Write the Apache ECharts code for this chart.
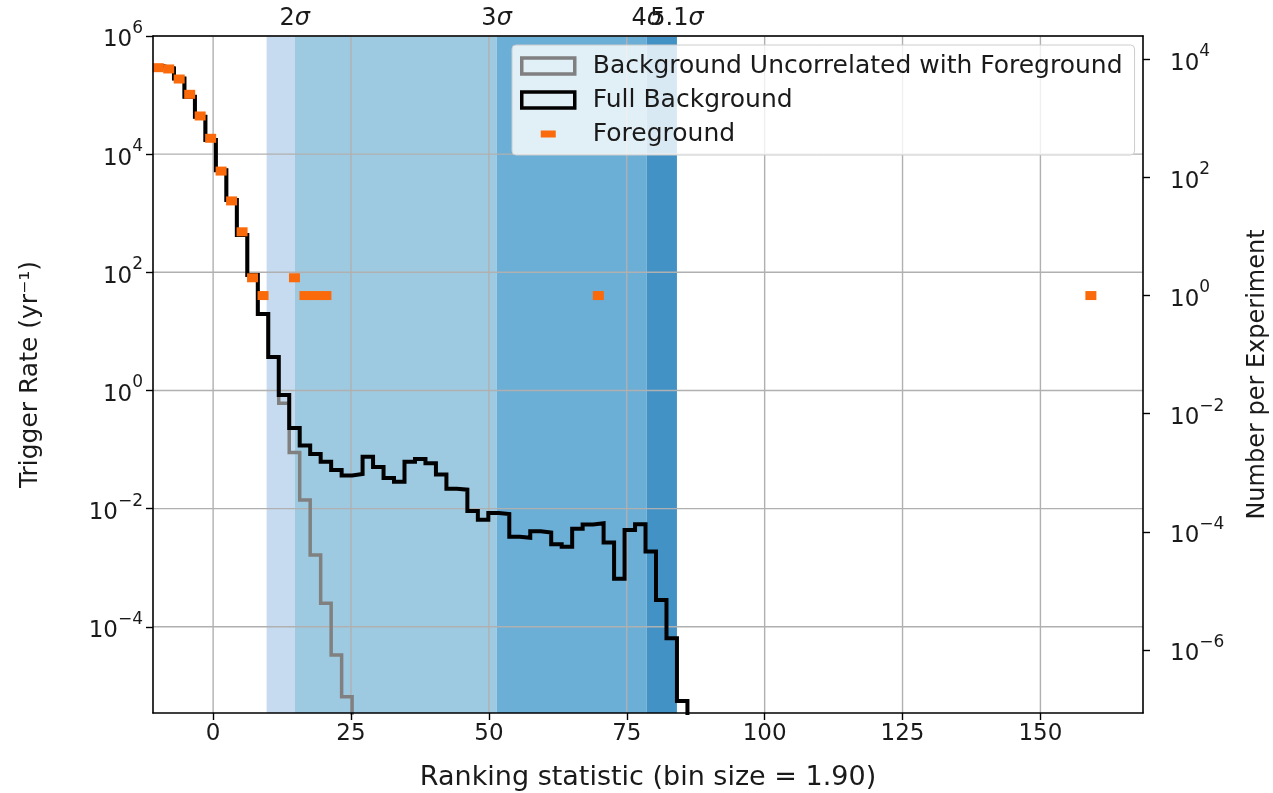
<!DOCTYPE html>
<html><head><meta charset="utf-8">
<script src="https://cdn.jsdelivr.net/npm/echarts@6/dist/echarts.min.js"></script>
<style>html,body{margin:0;padding:0;background:#fff}#c{width:1273px;height:793px}</style>
</head><body><div id="c"></div>
<script>
// ---- data ----
const binStart = -10.9;
const binSize = 1.90;
// Full background trigger rate per bin (yr^-1)
const fullBackground = [3.08e5, 2.85e5, 1.91e5, 9.33e4, 4.28e4, 1.73e4, 5360, 1667, 426, 89.8,
  19.6, 3.67, 0.836, 0.231, 0.117, 0.084, 0.0622, 0.045, 0.0363, 0.0385,
  0.0755, 0.0506, 0.033, 0.0285, 0.0622, 0.069, 0.0583, 0.0378, 0.0216, 0.0209,
  0.0091, 0.00649, 0.00841, 0.0081, 0.00335, 0.00321, 0.00413, 0.00394, 0.0025, 0.00226,
  0.00457, 0.00538, 0.00564, 0.00267, 0.000649, 0.00435, 0.00545, 0.00187, 0.000284, 6.4e-5, 5.56e-6];
// Background uncorrelated with foreground, per bin (yr^-1)
const uncorrelatedBackground = [3.08e5, 2.85e5, 1.91e5, 9.33e4, 4.28e4, 1.73e4, 5360, 1667, 426, 89.8,
  19.6, 3.67, 0.605, 0.0889, 0.014, 0.00164, 0.00025, 3.33e-5, 6.56e-6];
// Foreground: bin index and number of events per experiment
const foregroundBins = [0, 1, 2, 3, 4, 5, 6, 7, 8, 9, 10, 13, 14, 15, 16, 42, 89];
const foregroundCounts = [7200, 6850, 4630, 2550, 1096, 459, 128, 40, 12, 2, 1, 2, 1, 1, 1, 1, 1];
// Significance bands
const sigmaEdges = [9.7, 14.78, 51.4, 78.6, 84.1];
const sigmaTickValues = [14.78, 51.4, 78.6, 84.1];
const sigmaTickLabels = ['2', '3', '4', '5.1'];
const xTicks = [0, 25, 50, 75, 100, 125, 150];
const leftTicksLog = [-4, -2, 0, 2, 4, 6];
const rightTicksLog = [-6, -4, -2, 0, 2, 4];
const experimentsPerYear = 40.4;

// ---- config ----
const X_MIN = -10.9, X_MAX = 168.6;
const L_MIN = -5.46, L_MAX = 6;
const OFF = Math.log10(experimentsPerYear);
const R_MIN = L_MIN - OFF, R_MAX = L_MAX - OFF;
const bandColors = ['#c6dbef', '#9ecae1', '#6baed6', '#4292c6'];
const FONT = 'DejaVu Sans';
const TXT = '#1a1a1a';
const ORANGE = '#fa6a0a';

const pow10Label = v => '{b|10}{s|' + String(Math.round(v)).replace('-', '−') + '}';
const powRich = {
  b: {fontFamily: FONT, fontSize: 23, color: TXT, lineHeight: 32, verticalAlign: 'bottom'},
  s: {fontFamily: FONT, fontSize: 17, color: TXT, lineHeight: 20, verticalAlign: 'top'}
};

function stepPoints(vals) {
  const pts = [];
  for (let k = 0; k < vals.length; k++) {
    const a = binStart + k * binSize, b = a + binSize, y = Math.log10(vals[k]);
    pts.push([a, y], [b, y]);
  }
  pts.push([binStart + vals.length * binSize, L_MIN - 3]);
  return pts;
}

const bandData = [];
for (let i = 0; i < sigmaEdges.length - 1; i++) bandData.push([sigmaEdges[i], sigmaEdges[i + 1], i]);

const fgData = foregroundBins.map((k, i) => [binStart + (k + 0.5) * binSize, Math.log10(foregroundCounts[i])]);

const gridStroke = {stroke: '#b0b0b0', lineWidth: 1.4};

const chart = echarts.init(document.getElementById('c'), null, {renderer: 'canvas'});
chart.setOption({
  animation: false,
  backgroundColor: '#fff',
  grid: {left: 153, right: 130, top: 36, bottom: 80, containLabel: false, outerBoundsMode: 'none'},
  legend: {
    orient: 'vertical', left: 512, top: 45, padding: [7, 12, 7, 8],
    itemWidth: 53, itemHeight: 16, itemGap: 6,
    backgroundColor: 'rgba(255,255,255,0.8)', borderColor: '#cccccc', borderWidth: 1, borderRadius: 4,
    textStyle: {fontFamily: FONT, fontSize: 25, color: TXT, lineHeight: 28, padding: [0, 0, 0, 13]},
    data: [
      {name: 'Background Uncorrelated with Foreground', icon: 'rect',
        itemStyle: {color: 'rgba(255,255,255,0)', borderColor: '#808080', borderWidth: 3.5}},
      {name: 'Full Background', icon: 'rect',
        itemStyle: {color: 'rgba(255,255,255,0)', borderColor: '#000000', borderWidth: 3.5}},
      {name: 'Foreground', icon: 'path://M0,0M53,16M19,4.5H34V11.5H19Z', itemStyle: {color: ORANGE, opacity: 1}}
    ]
  },
  xAxis: [{
    type: 'value', position: 'bottom', min: X_MIN, max: X_MAX, z: 5,
    axisLine: {show: true, onZero: false, lineStyle: {color: '#000', width: 1.6}},
    axisTick: {show: true, length: 7, customValues: xTicks, lineStyle: {color: '#000', width: 1.4}},
    axisLabel: {customValues: xTicks, fontFamily: FONT, fontSize: 23, color: TXT, margin: 10},
    splitLine: {show: false},
    name: 'Ranking statistic (bin size = 1.90)', nameLocation: 'middle', nameGap: 51,
    nameTextStyle: {fontFamily: FONT, fontSize: 27, color: TXT}
  }, {
    type: 'value', position: 'top', min: X_MIN, max: X_MAX, z: 5,
    axisLine: {show: true, onZero: false, lineStyle: {color: '#000', width: 1.6}},
    axisTick: {show: false},
    axisLabel: {show: false},
    splitLine: {show: false}
  }],
  yAxis: [{
    type: 'value', position: 'left', min: L_MIN, max: L_MAX, z: 5,
    axisLine: {show: true, onZero: false, lineStyle: {color: '#000', width: 1.6}},
    axisTick: {show: true, length: 7, customValues: leftTicksLog, lineStyle: {color: '#000', width: 1.4}},
    axisLabel: {customValues: leftTicksLog, formatter: pow10Label, rich: powRich, margin: 10},
    splitLine: {show: false},
    name: 'Trigger Rate (yr⁻¹)', nameLocation: 'middle', nameGap: 110,
    nameTextStyle: {fontFamily: FONT, fontSize: 25, color: TXT}
  }, {
    type: 'value', position: 'right', min: R_MIN, max: R_MAX, z: 5,
    axisLine: {show: true, onZero: false, lineStyle: {color: '#000', width: 1.6}},
    axisTick: {show: true, length: 7, customValues: rightTicksLog, lineStyle: {color: '#000', width: 1.4}},
    axisLabel: {customValues: rightTicksLog, formatter: pow10Label, rich: powRich, margin: 27},
    splitLine: {show: false},
    name: 'Number per Experiment', nameLocation: 'middle', nameGap: 103,
    nameTextStyle: {fontFamily: FONT, fontSize: 24, color: TXT}
  }],
  series: [{
    type: 'custom', name: 'bands', xAxisIndex: 0, yAxisIndex: 0, z: 1, silent: true,
    data: bandData, encode: {x: [0, 1]},
    renderItem: (params, api) => {
      const cs = params.coordSys;
      const x0 = api.coord([api.value(0), 0])[0];
      const x1 = api.coord([api.value(1), 0])[0];
      return {type: 'rect', shape: {x: x0, y: cs.y, width: x1 - x0, height: cs.height},
        style: {fill: bandColors[api.value(2)]}};
    }
  }, {
    type: 'custom', name: 'xgrid', xAxisIndex: 0, yAxisIndex: 0, z: 1.5, silent: true,
    data: xTicks.map(v => [v, 0]), encode: {x: 0, y: 1},
    renderItem: (params, api) => {
      const cs = params.coordSys;
      const x = api.coord([api.value(0), 0])[0];
      return {type: 'line', shape: {x1: x, y1: cs.y, x2: x, y2: cs.y + cs.height}, style: gridStroke};
    }
  }, {
    type: 'custom', name: 'ygrid', xAxisIndex: 0, yAxisIndex: 0, z: 1.5, silent: true,
    data: leftTicksLog.map(v => [0, v]), encode: {x: 0, y: 1},
    renderItem: (params, api) => {
      const cs = params.coordSys;
      const y = api.coord([0, api.value(1)])[1];
      return {type: 'line', shape: {x1: cs.x, y1: y, x2: cs.x + cs.width, y2: y}, style: gridStroke};
    }
  }, {
    type: 'custom', name: 'sigmaLabels', xAxisIndex: 1, yAxisIndex: 0, z: 5, silent: true,
    data: sigmaTickValues.map((v, i) => [v, i]), encode: {x: 0},
    renderItem: (params, api) => {
      const cs = params.coordSys;
      const x = api.coord([api.value(0), 0])[0];
      const lbl = sigmaTickLabels[api.value(1)];
      return {type: 'text', style: {
        text: '{n|' + lbl + '}{g|σ}', x: x, y: cs.y - 5, align: 'center', verticalAlign: 'bottom',
        rich: {
          n: {fontFamily: FONT, fontSize: 24, fill: TXT},
          g: {fontFamily: FONT, fontSize: 24, fontStyle: 'italic', fill: TXT}
        }
      }};
    }
  }, {
    type: 'line', name: 'Background Uncorrelated with Foreground', xAxisIndex: 0, yAxisIndex: 0, z: 2,
    data: stepPoints(uncorrelatedBackground), showSymbol: false, symbol: 'none', clip: true,
    itemStyle: {color: '#808080'},
    lineStyle: {color: '#808080', width: 3.5, join: 'miter', cap: 'butt'}
  }, {
    type: 'line', name: 'Full Background', xAxisIndex: 0, yAxisIndex: 0, z: 2.5,
    data: stepPoints(fullBackground), showSymbol: false, symbol: 'none', clip: true,
    itemStyle: {color: '#000'},
    lineStyle: {color: '#000', width: 4, join: 'miter', cap: 'butt'}
  }, {
    type: 'scatter', name: 'Foreground', xAxisIndex: 0, yAxisIndex: 1, z: 3,
    data: fgData, symbol: 'rect', symbolSize: [11, 9],
    itemStyle: {color: ORANGE, opacity: 1}
  }]
});
</script>
</body></html>
